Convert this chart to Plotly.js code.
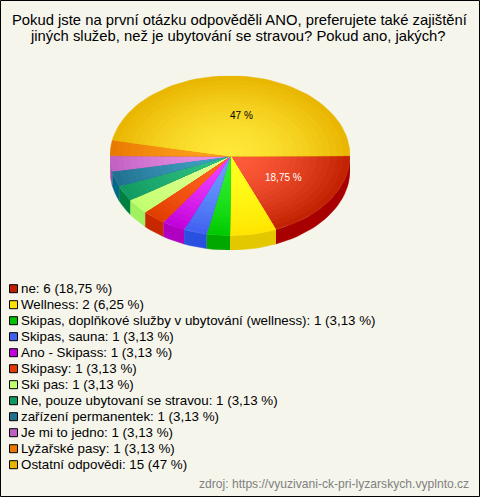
<!DOCTYPE html>
<html><head><meta charset="utf-8">
<script src="https://cdn.plot.ly/plotly-3.0.1.min.js"></script>
<style>html,body{margin:0;padding:0;background:#f5f5ec}#c{width:480px;height:497px}</style>
</head><body><div id="c"></div>
<script>
const categories = ["ne","Wellness","Skipas, doplňkové služby v ubytování (wellness)","Skipas, sauna","Ano - Skipass","Skipasy","Ski pas","Ne, pouze ubytovaní se stravou","zařízení permanentek","Je mi to jedno","Lyžařské pasy","Ostatní odpovědi"];
const counts = [6,2,1,1,1,1,1,1,1,1,1,15];
const shares = ["18,75 %","6,25 %","3,13 %","3,13 %","3,13 %","3,13 %","3,13 %","3,13 %","3,13 %","3,13 %","3,13 %","47 %"];
const centerColors = ["#ff5c3c","#ffff20","#30f030","#6a9cff","#f040ff","#ff6420","#e0ff90","#30c080","#40a0c0","#e890e8","#ffa020","#ffe838"];
const edgeColors = ["#c02000","#ffe400","#00c800","#4060f0","#c000d8","#e03c00","#c0ff70","#109860","#207090","#c060c0","#e87800","#e8b400"];
const sideColors = ["#a80000","#e3c800","#00a800","#2a50e0","#b000c0","#c82800","#a0f060","#008040","#006888","#a050a8","#c86000","#c09000"];
const swatchColors = ["#c02000","#ffe000","#00c000","#4060f0","#c000d8","#e03c00","#c0ff70","#109860","#207090","#c060c0","#e87800","#e8b400"];
const pieLabels = [{i:0,text:"18,75 %",color:"#ffffff",xshift:4},{i:11,text:"47 %",color:"#000000",xshift:6}];
const TITLE_LINES = ["Pokud jste na první otázku odpověděli ANO, preferujete také zajištění","jiných služeb, než je ubytování se stravou? Pokud ano, jakých?"];
const SOURCE = "zdroj: https://vyuzivani-ck-pri-lyzarskych.vyplnto.cz";

const W=480,H=497, FONT="Liberation Sans, Arial, sans-serif";
const DEPTH=0.18, BANDS=18, STEP=3;
const px=x=>x/W, py=y=>1-y/H;
const total=counts.reduce((a,b)=>a+b,0);
const hex=c=>[1,3,5].map(i=>parseInt(c.substr(i,2),16));
const mix=(a,b,t)=>{const A=hex(a),B=hex(b);return `rgb(${A.map((v,i)=>Math.round(v+(B[i]-v)*t)).join(",")})`;};
const rad=d=>d*Math.PI/180;

let start=0; const spans=counts.map(v=>{const s={a:start,b:start+v/total*360};start=s.b;return s;});
const arc=(a,b,r,dy)=>{const xs=[],ys=[];const n=Math.max(2,Math.ceil((b-a)/STEP));
  for(let k=0;k<=n;k++){const t=rad(a+(b-a)*k/n);xs.push(r*Math.cos(t));ys.push(-r*Math.sin(t)-dy);}return {xs,ys};};
const traces=[];
spans.forEach((s,i)=>{
  const a=s.a,b=Math.min(s.b,180); if(b<=a) return;
  const top=arc(a,b,1,0),bot=arc(a,b,1,DEPTH);
  traces.push({type:"scatter",mode:"lines",x:top.xs.concat(bot.xs.slice().reverse()),y:top.ys.concat(bot.ys.slice().reverse()),
    fill:"toself",fillcolor:sideColors[i],line:{width:0.5,color:sideColors[i]},hoverinfo:"skip",showlegend:false});
});
spans.forEach((s,i)=>{
  for(let k=BANDS;k>=1;k--){const r=k/BANDS;const e=arc(s.a,s.b,r,0);
    const col=mix(centerColors[i],edgeColors[i],Math.pow((k-0.5)/BANDS,1.6));
    traces.push({type:"scatter",mode:"lines",x:[0].concat(e.xs,[0]),y:[0].concat(e.ys,[0]),
      fill:"toself",fillcolor:col,line:{width:0.4,color:col},hoverinfo:"skip",showlegend:false});
  }
});
const annotations=[
 {xref:"paper",yref:"paper",x:px(240),y:py(20.5),text:TITLE_LINES[0],showarrow:false,xanchor:"center",yanchor:"middle",font:{family:FONT,size:14.8,color:"#000"}},
 {xref:"paper",yref:"paper",x:px(238),y:py(36),text:TITLE_LINES[1],showarrow:false,xanchor:"center",yanchor:"middle",font:{family:FONT,size:14.8,color:"#000"}},
 {xref:"paper",yref:"paper",x:px(471),y:py(484),text:SOURCE,showarrow:false,xanchor:"right",yanchor:"middle",font:{family:FONT,size:12.1,color:"#808080"}}
];
pieLabels.forEach(l=>{const m=rad((spans[l.i].a+spans[l.i].b)/2);
  annotations.push({xref:"x",yref:"y",x:0.5*Math.cos(m),y:-0.5*Math.sin(m),xshift:l.xshift,text:l.text,showarrow:false,font:{family:FONT,size:10,color:l.color}});});
const shapes=[{type:"rect",xref:"paper",yref:"paper",x0:px(0.5),x1:px(479.5),y0:py(0.5),y1:py(496.5),line:{color:"#000",width:1}}];
categories.forEach((c,i)=>{const y=288.7+16*i;
  shapes.push({type:"rect",xref:"paper",yref:"paper",x0:px(9.5),x1:px(17.5),y0:py(y-4),y1:py(y+4),fillcolor:swatchColors[i],line:{color:"#000",width:1}});
  annotations.push({xref:"paper",yref:"paper",x:px(19),y:py(y),text:`${c}: ${counts[i]} (${shares[i]})`,showarrow:false,xanchor:"left",yanchor:"middle",font:{family:FONT,size:13.35,color:"#000"}});
});
const cx=230,rx=120,cy=155.7,ry=80,dep=ry*DEPTH;
const layout={width:W,height:H,margin:{l:0,r:0,t:0,b:0},paper_bgcolor:"#f5f5ec",plot_bgcolor:"rgba(0,0,0,0)",showlegend:false,
 xaxis:{visible:false,range:[-1,1],domain:[px(cx-rx),px(cx+rx)],fixedrange:true},
 yaxis:{visible:false,range:[-1-DEPTH,1],autorange:false,domain:[py(cy+ry+dep),py(cy-ry)],fixedrange:true},
 shapes,annotations};
Plotly.newPlot("c",traces,layout,{displayModeBar:false,staticPlot:true});
</script></body></html>
